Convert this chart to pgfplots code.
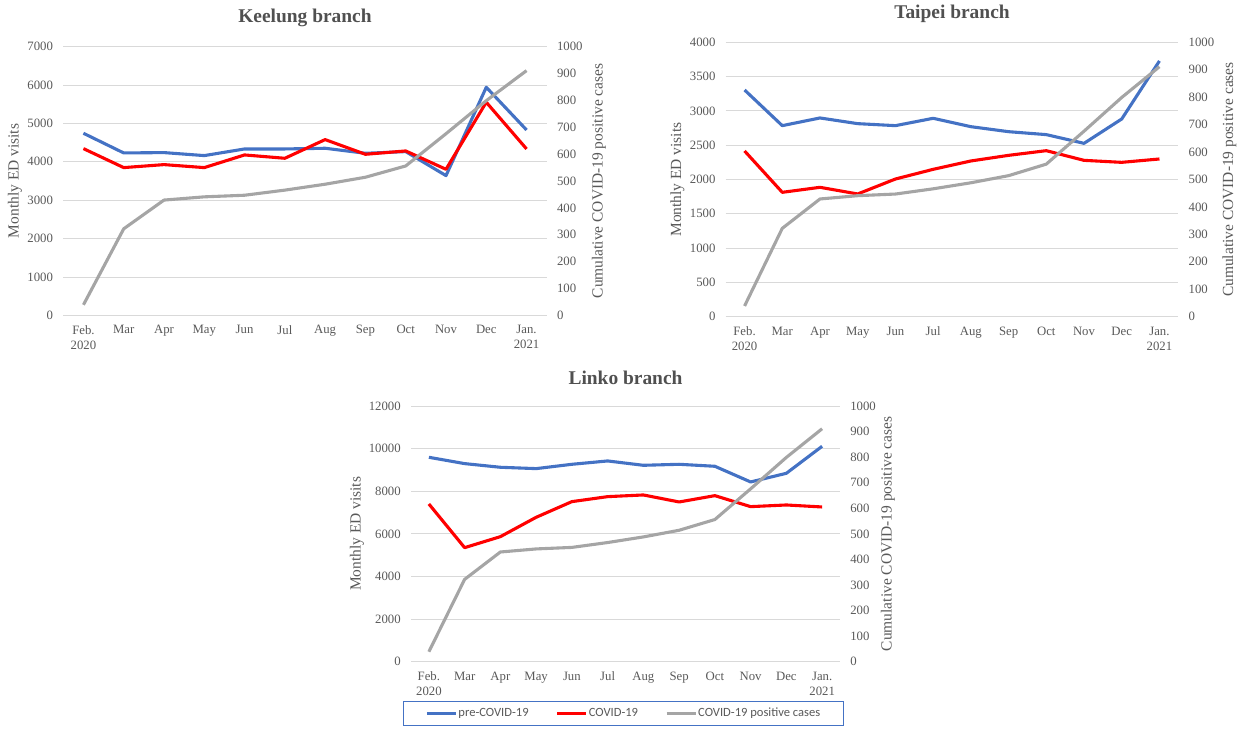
\documentclass[border=0pt]{standalone}
\usepackage{fontspec}
\setmainfont{Liberation Serif}
\newfontfamily\legfont{Carlito}
\usepackage{pgfplots}
\usepackage{pgfplotstable}
\pgfplotsset{compat=1.18}

\definecolor{preblue}{HTML}{4472C4}
\definecolor{covred}{HTML}{FF0000}
\definecolor{casegray}{HTML}{A5A5A5}
\definecolor{gridgray}{HTML}{D9D9D9}
\definecolor{txtgray}{HTML}{595959}
\definecolor{titlegray}{HTML}{505050}

% monthly ED visits, Feb 2020 (0) .. Jan 2021 (11)
\pgfplotstableread{
m pre covid
0 4744 4344
1 4231 3849
2 4240 3927
3 4162 3849
4 4335 4179
5 4335 4092
6 4353 4579
7 4222 4196
8 4266 4283
9 3640 3805
10 5943 5552
11 4830 4335
}\keelung

\pgfplotstableread{
m pre covid
0 3305 2416
1 2785 1813
2 2897 1886
3 2814 1789
4 2785 2007
5 2892 2148
6 2770 2270
7 2697 2352
8 2654 2420
9 2527 2279
10 2882 2250
11 3728 2299
}\taipei

\pgfplotstableread{
m pre covid
0 9593 7402
1 9296 5352
2 9124 5868
3 9061 6776
4 9264 7512
5 9421 7746
6 9217 7825
7 9264 7496
8 9171 7793
9 8435 7277
10 8842 7355
11 10110 7261
}\linko

% cumulative positive cases (same for all branches)
\pgfplotstableread{
m cases
0 39
1 322
2 429
3 441
4 447
5 466
6 488
7 514
8 556
9 676
10 799
11 911
}\cases

\pgfplotsset{
  panel/.style={
    scale only axis,
    xmin=-0.5, xmax=11.5,
    xtick={0,...,11},
    xticklabels={{Feb.\\2020},Mar,Apr,May,Jun,Jul,Aug,Sep,Oct,Nov,Dec,{Jan.\\2021}},
    xticklabel style={align=center, anchor=north, yshift=-6.5bp},
    major tick length=0pt,
    axis line style={draw=none},
    tick style={draw=none},
    ticklabel style={font=\fontsize{12.8}{15}\selectfont, text=txtgray},
    /pgf/number format/assume math mode=true,
    /pgf/number format/1000 sep={},
    scaled y ticks=false,
    label style={font=\fontsize{15.5}{18}\selectfont, text=txtgray},
    title style={font=\fontsize{19.5}{22}\selectfont\bfseries, text=titlegray,
      at={(axis description cs:0.5,1)}, anchor=center, yshift=22.5bp},
    every axis plot/.append style={line width=3.1bp, line join=round},
  },
  leftax/.style={panel, ymin=0, ymajorgrids,
    grid style={gridgray, line width=0.8bp},
    yticklabel style={anchor=east, xshift=-6.8bp},
    ylabel={Monthly ED visits},
    ylabel style={at={(axis description cs:#1,0.5)}, anchor=center}},
  rightax/.style={panel, axis y line*=right, hide x axis,
    ymin=0, ymax=1000, ytick={0,100,...,1000},
    yticklabel style={anchor=west, xshift=6.8bp},
    ylabel={Cumulative COVID-19 positive cases},
    ylabel style={at={(axis description cs:#1,0.5)}, anchor=center}},
}

\begin{document}
\begin{tikzpicture}
\useasboundingbox (0bp,0bp) rectangle (1239bp,729bp);

% Keelung
\begin{axis}[leftax=-0.1003, at={(63.3bp,413.7bp)}, anchor=south west,
  width=483.4bp, height=268.6bp, ymax=7000, ytick={0,1000,...,7000},
  title={Keelung branch}]
\addplot[preblue] table[x=m, y=pre] {\keelung};
\addplot[covred] table[x=m, y=covid] {\keelung};
\end{axis}
\begin{axis}[rightax=1.108, at={(63.3bp,413.7bp)}, anchor=south west,
  width=483.4bp, height=268.6bp]
\addplot[casegray] table[x=m, y=cases] {\cases};
\end{axis}

% Taipei
\begin{axis}[leftax=-0.1065, at={(725.7bp,412.3bp)}, anchor=south west,
  width=452.6bp, height=274.4bp, ymax=4000, ytick={0,500,...,4000},
  title={Taipei branch}]
\addplot[preblue] table[x=m, y=pre] {\taipei};
\addplot[covred] table[x=m, y=covid] {\taipei};
\end{axis}
\begin{axis}[rightax=1.1127, at={(725.7bp,412.3bp)}, anchor=south west,
  width=452.6bp, height=274.4bp]
\addplot[casegray] table[x=m, y=cases] {\cases};
\end{axis}

% Linko
\begin{axis}[leftax=-0.1263, at={(411bp,67.3bp)}, anchor=south west,
  width=429bp, height=255.7bp, ymax=12000, ytick={0,2000,...,12000},
  title={Linko branch}]
\addplot[preblue] table[x=m, y=pre] {\linko};
\addplot[covred] table[x=m, y=covid] {\linko};
\end{axis}
\begin{axis}[rightax=1.1119, at={(411bp,67.3bp)}, anchor=south west,
  width=429bp, height=255.7bp,
  legend columns=3,
  legend image code/.code={\draw[#1] (0bp,0bp) -- (29bp,0bp);},
  legend style={at={(axis description cs:0.4949,-0.2022)}, anchor=center,
    draw=preblue, line width=0.8bp, text=txtgray,
    font=\legfont\fontsize{12.6}{15}\selectfont,
    inner xsep=22bp, inner ysep=5bp,
    nodes={inner xsep=1bp},
    /tikz/every even column/.append style={column sep=26bp}}]
\addlegendimage{preblue, line width=3.1bp}
\addlegendentry{pre-COVID-19}
\addlegendimage{covred, line width=3.1bp}
\addlegendentry{COVID-19}
\addplot[casegray] table[x=m, y=cases] {\cases};
\addlegendentry{COVID-19 positive cases}
\end{axis}
\end{tikzpicture}
\end{document}
